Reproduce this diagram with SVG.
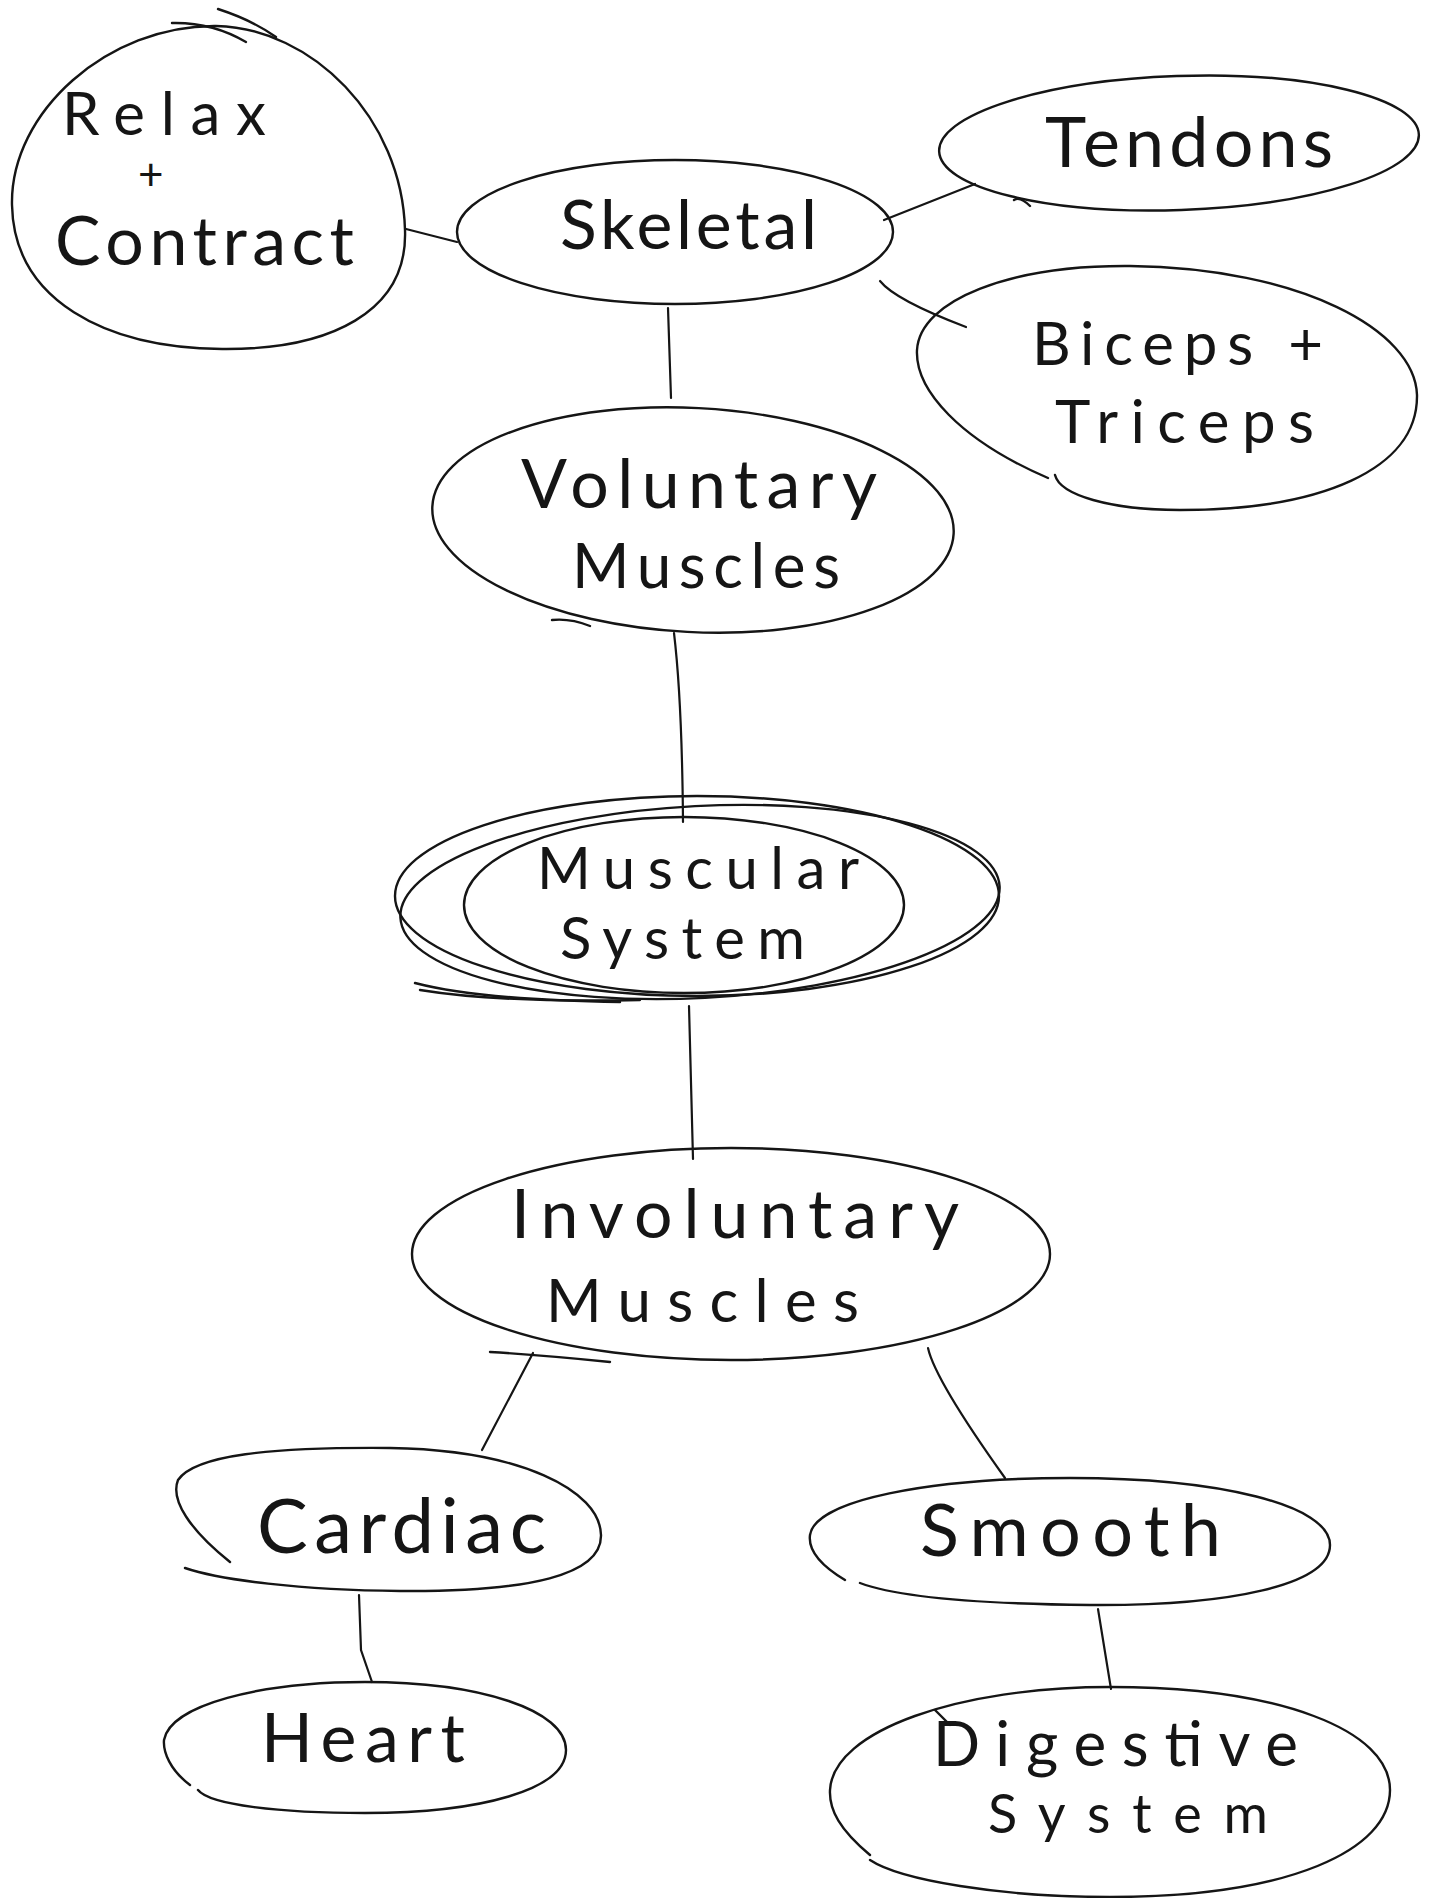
<svg xmlns="http://www.w3.org/2000/svg" width="1432" height="1898" viewBox="0 0 1432 1898">
<style>
.s{fill:none;stroke:#151515;stroke-width:2.4;stroke-linecap:round;stroke-linejoin:round}
.c{fill:none;stroke:#151515;stroke-width:2.2;stroke-linecap:round}
text{font-family:Lato,"Liberation Sans",sans-serif;font-weight:400;fill:#151515}
</style>
<rect width="1432" height="1898" fill="#ffffff"/>
<g id="connectors">
<path class="c" d="M406,229 L457,242"/>
<path class="c" d="M884,220 L975,184"/>
<path class="c" d="M880,281 Q895,300 966,327"/>
<path class="c" d="M668,308 L671,398"/>
<path class="c" d="M674,633 Q682,700 683,822"/>
<path class="c" d="M689,1006 L693,1159"/>
<path class="c" d="M533,1353 L482,1450"/>
<path class="c" d="M928,1348 Q935,1380 1005,1478"/>
<path class="c" d="M359,1595 L361,1650 L372,1682"/>
<path class="c" d="M1098,1609 L1111,1689"/>
</g>
<g id="relax">
<path class="s" d="M216,26 C312,28 402,118 405,230 C408,312 330,350 222,349 C105,348 14,300 12,205 C10,112 108,25 216,26 Z"/>
<path class="s" d="M218,9 Q252,20 276,37"/>
<path class="s" d="M172,23 Q212,22 246,42"/>
<text x="62" y="135" font-size="60" textLength="204" lengthAdjust="spacing">Relax</text>
<text x="138" y="190" font-size="44" textLength="34" lengthAdjust="spacing">+</text>
<text x="55" y="265" font-size="68" textLength="299" lengthAdjust="spacing">Contract</text>
</g>
<g id="skeletal">
<ellipse class="s" cx="675" cy="232" rx="218" ry="72"/>
<text x="560" y="249" font-size="68" textLength="257" lengthAdjust="spacing">Skeletal</text>
</g>
<g id="tendons">
<ellipse class="s" cx="1179" cy="143" rx="240" ry="67" transform="rotate(-2 1179 143)"/>
<path class="s" d="M1014,200 Q1020,196 1030,206"/>
<text x="1045" y="167" font-size="70" textLength="288" lengthAdjust="spacing">Tendons</text>
</g>
<g id="biceps">
<path class="s" d="M1048,478 C960,440 915,390 917,350 C920,300 1010,265 1130,266 C1300,268 1415,330 1417,395 C1418,470 1320,510 1180,510 C1110,510 1060,495 1055,475"/>
<text x="1032" y="365" font-size="60" textLength="291" lengthAdjust="spacing">Biceps +</text>
<text x="1055" y="443" font-size="60" textLength="259" lengthAdjust="spacing">Triceps</text>
</g>
<g id="voluntary">
<ellipse class="s" cx="693" cy="520" rx="261" ry="112" transform="rotate(3 693 520)"/>
<path class="s" d="M552,620 Q570,618 590,626"/>
<text x="521" y="508" font-size="68" textLength="356" lengthAdjust="spacing">Voluntary</text>
<text x="572" y="588" font-size="62" textLength="268" lengthAdjust="spacing">Muscles</text>
</g>
<g id="muscular">
<ellipse class="s" cx="697" cy="896" rx="302" ry="100"/>
<ellipse class="s" cx="700" cy="902" rx="300" ry="96" transform="rotate(-3 700 902)"/>
<ellipse class="s" cx="684" cy="905" rx="220" ry="88"/>
<path class="s" d="M415,983 Q480,1000 620,1002"/>
<path class="s" d="M420,990 Q500,1003 640,1000"/>
<text x="537" y="889" font-size="58" textLength="322" lengthAdjust="spacing">Muscular</text>
<text x="560" y="959" font-size="58" textLength="245" lengthAdjust="spacing">System</text>
</g>
<g id="involuntary">
<ellipse class="s" cx="731" cy="1254" rx="319" ry="106"/>
<path class="s" d="M490,1352 Q540,1355 610,1362"/>
<text x="511" y="1238" font-size="68" textLength="448" lengthAdjust="spacing">Involuntary</text>
<text x="546" y="1322" font-size="60" textLength="313" lengthAdjust="spacing">Muscles</text>
</g>
<g id="cardiac">
<path class="s" d="M230,1562 C190,1530 170,1500 178,1480 C195,1455 270,1447 390,1448 C520,1450 600,1490 601,1535 C602,1575 530,1592 400,1591 C300,1590 220,1580 185,1568"/>
<text x="257" y="1553" font-size="76" textLength="289" lengthAdjust="spacing">Cardiac</text>
</g>
<g id="smooth">
<path class="s" d="M845,1580 C820,1565 808,1550 810,1535 C815,1500 930,1478 1070,1478 C1220,1478 1330,1505 1330,1545 C1330,1585 1230,1606 1090,1605 C990,1604 900,1598 860,1583"/>
<text x="920" y="1556" font-size="72" textLength="301" lengthAdjust="spacing">Smooth</text>
</g>
<g id="heart">
<path class="s" d="M190,1785 C170,1770 163,1752 164,1740 C170,1705 260,1682 365,1682 C480,1682 566,1710 566,1750 C566,1790 480,1813 365,1813 C280,1813 210,1805 198,1790"/>
<text x="261" y="1762" font-size="68" textLength="204" lengthAdjust="spacing">Heart</text>
</g>
<g id="digestive">
<path class="s" d="M870,1855 C840,1830 829,1810 830,1790 C833,1730 960,1687 1110,1687 C1280,1687 1390,1730 1390,1790 C1390,1850 1290,1897 1110,1897 C1000,1897 900,1880 870,1860"/>
<path class="s" d="M935,1710 Q943,1718 950,1725"/>
<text x="933" y="1766" font-size="62" textLength="365" lengthAdjust="spacing">Digestive</text>
<text x="988" y="1833" font-size="54" textLength="280" lengthAdjust="spacing">System</text>
</g>
</svg>
